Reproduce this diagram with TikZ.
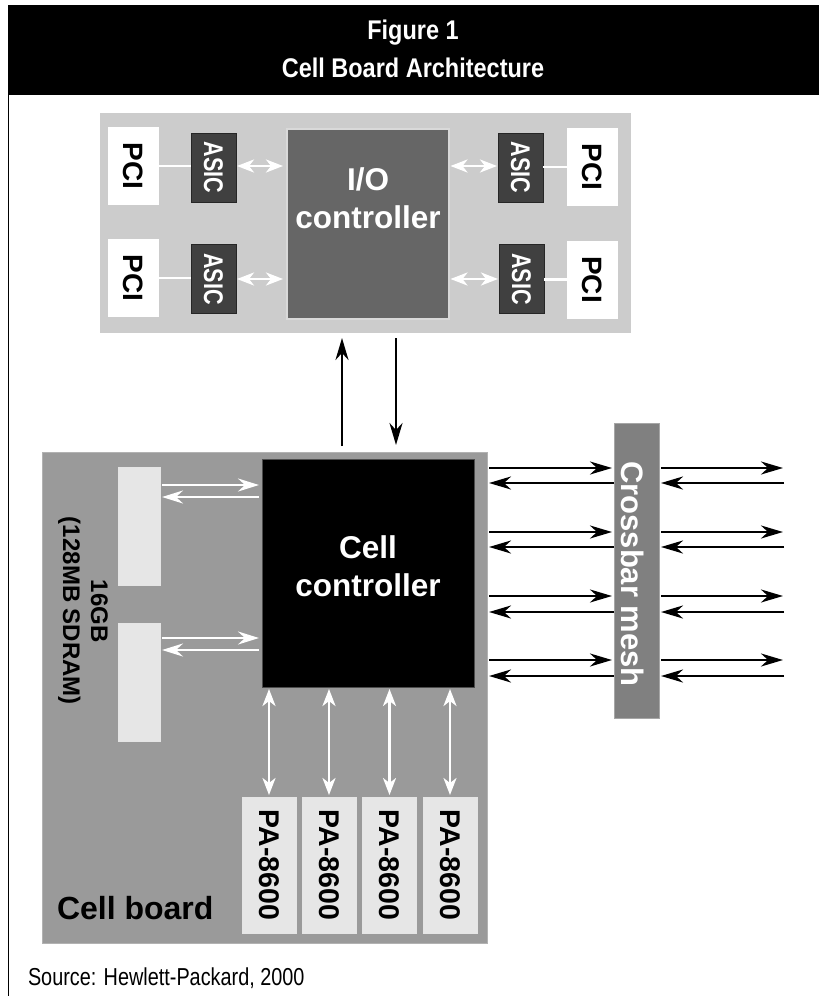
\documentclass[tikz,border=0pt]{standalone}
\usepackage{fontspec}
\setmainfont{Liberation Sans}
\newfontfamily\condfont[FakeStretch=0.87]{Liberation Sans}
\newfontfamily\srcfont[FakeStretch=0.81]{Liberation Sans}
\newfontfamily\asicfont[FakeStretch=0.8]{Liberation Sans}
\usetikzlibrary{arrows.meta}
\definecolor{ioboard}{HTML}{CCCCCC}
\definecolor{asicc}{HTML}{404040}
\definecolor{ioctrl}{HTML}{666666}
\definecolor{cellbd}{HTML}{9A9A9A}
\definecolor{membox}{HTML}{E6E6E6}
\definecolor{xbarc}{HTML}{808080}
\tikzset{
  every node/.style={inner sep=0pt, outer sep=0pt},
  titletext/.style={text=white, anchor=base, font={\condfont\bfseries\fontsize{27}{30}\selectfont}},
  pcibox/.style={fill=white, minimum width=51pt, minimum height=78pt, font={\bfseries\fontsize{28}{30}\selectfont}},
  asicbox/.style={fill=asicc, draw=black!85, line width=0.8pt, minimum width=45pt, minimum height=69pt, text=white, font={\asicfont\bfseries\fontsize{27}{28}\selectfont}},
  ctrltext/.style={align=center, font={\bfseries\fontsize{31.5}{38}\selectfont}},
  memrect/.style={fill=membox, draw=white!90!black, line width=0.8pt, minimum width=42pt, minimum height=118pt},
  pabox/.style={fill=membox, draw=white!90!black, line width=0.8pt, minimum width=54pt, minimum height=136pt, font={\bfseries\fontsize{28.5}{30}\selectfont}},
  blkarrow/.style={line width=2.6pt, -{Stealth[length=22pt,width=13pt,inset=7pt]}},
  whtarrow/.style={white, line width=2.6pt, -{Stealth[length=21pt,width=13pt,inset=7pt]}},
  whtdouble/.style={white, line width=2.6pt, {Stealth[length=17pt,width=13pt,inset=5pt]}-{Stealth[length=17pt,width=13pt,inset=5pt]}},
  whtline/.style={white, line width=2.2pt},
}
\begin{document}
\begin{tikzpicture}[x=1pt,y=-1pt]
\useasboundingbox (0,0) rectangle (819,996);
\fill[white] (0,0) rectangle (819,996);
% title bar
\fill[black] (7.5,5) rectangle (819,95);
\node[titletext] (t1) at (413,39) {Figure 1};
\node[titletext] (t2) at (413,77) {Cell Board Architecture};
\draw[line width=1.3pt] (8.2,95) -- (8.2,996);

% I/O board
\node[fill=ioboard, minimum width=531pt, minimum height=220pt] (ioboard) at (365.5,223) {};
\node[fill=ioctrl, draw=white!85!black, line width=1.2pt, minimum width=162pt, minimum height=190pt] (io) at (368,224) {};
\node[ctrltext, text=white] (iotext) at (368,198) {I/O\\controller};
\node[pcibox] (pci1) at (133.5,166) {\rotatebox{-90}{PCI}};
\node[pcibox] (pci2) at (133.5,278) {\rotatebox{-90}{PCI}};
\node[pcibox] (pci3) at (592.5,167) {\rotatebox{-90}{PCI}};
\node[pcibox] (pci4) at (592.5,279.5) {\rotatebox{-90}{PCI}};
\node[asicbox] (asic1) at (213.5,167.5) {\rotatebox{-90}{ASIC}};
\node[asicbox] (asic2) at (213.5,279) {\rotatebox{-90}{ASIC}};
\node[asicbox] (asic3) at (520.5,167.5) {\rotatebox{-90}{ASIC}};
\node[asicbox] (asic4) at (521.5,279) {\rotatebox{-90}{ASIC}};
\draw[whtline] (pci1.east) -- (asic1.west |- pci1.east);
\draw[whtline] (pci2.east) -- (asic2.west |- pci2.east);
\draw[whtline] (asic3.east |- pci3.west) -- (pci3.west);
\draw[whtline] (asic4.east |- pci4.west) -- (pci4.west);
\draw[whtdouble, shorten <=1pt, shorten >=4pt] (asic1.east |- 0,166) -- (io.west |- 0,166);
\draw[whtdouble, shorten <=1pt, shorten >=4pt] (asic2.east |- 0,279) -- (io.west |- 0,279);
\draw[whtdouble, shorten <=1.5pt, shorten >=1pt] (io.east |- 0,166) -- (asic3.west |- 0,166);
\draw[whtdouble, shorten <=1.5pt, shorten >=1pt] (io.east |- 0,279) -- (asic4.west |- 0,279);

% cell board
\node[fill=cellbd, draw=gray!60, line width=0.8pt, minimum width=445pt, minimum height=491pt] (board) at (264.5,697.5) {};
\node[fill=black, draw=black!70, line width=0.8pt, minimum width=212pt, minimum height=228pt] (cc) at (368,573) {};
\node[ctrltext, text=white] (cctext) at (368,566) {Cell\\controller};
\node[memrect] (mem1) at (139,526) {};
\node[memrect] (mem2) at (139,682) {};
\node[rotate=-90, align=center, font={\bfseries\fontsize{24}{28}\selectfont}] (memtext) at (83,611) {16GB\\(128MB SDRAM)};
\draw[whtarrow, shorten <=2pt, shorten >=3pt] (mem1.east |- 0,485) -- (cc.west |- 0,485);
\draw[whtarrow, shorten <=3pt, shorten >=2pt] (cc.west |- 0,497) -- (mem1.east |- 0,497);
\draw[whtarrow, shorten <=2pt, shorten >=3pt] (mem2.east |- 0,638) -- (cc.west |- 0,638);
\draw[whtarrow, shorten <=3pt, shorten >=2pt] (cc.west |- 0,650) -- (mem2.east |- 0,650);
\node[pabox] (pa1) at (269,865) {\rotatebox{-90}{PA-8600}};
\node[pabox] (pa2) at (329,865) {\rotatebox{-90}{PA-8600}};
\node[pabox] (pa3) at (389.5,865) {\rotatebox{-90}{PA-8600}};
\node[pabox] (pa4) at (450,865) {\rotatebox{-90}{PA-8600}};
\foreach \p in {pa1,pa2,pa3,pa4}{
  \draw[whtdouble, shorten <=2pt, shorten >=2pt] (cc.south -| \p.north) -- (\p.north);
}
\node[anchor=base west, font={\bfseries\fontsize{32}{34}\selectfont}] (cbtext) at (57,919) {Cell board};

% I/O <-> cell board
\draw[blkarrow, shorten <=6pt, shorten >=5pt] (board.north -| 342,0) -- (ioboard.south -| 342,0);
\draw[blkarrow, shorten <=5pt, shorten >=7pt] (ioboard.south -| 396,0) -- (board.north -| 396,0);

% crossbar
\node[fill=xbarc, draw=gray!70, line width=0.8pt, minimum width=45pt, minimum height=295pt] (xbar) at (636.5,570.5) {};
\node[text=white, font={\bfseries\fontsize{31}{33}\selectfont}] (xbartext) at (633,574) {\rotatebox{-90}{Crossbar mesh}};
\foreach \i/\a/\b in {1/468/483, 2/532/547, 3/596/612, 4/660/676}{
  \coordinate (ro\i) at (784,\a);
  \coordinate (ri\i) at (784,\b);
  \draw[blkarrow, shorten <=2pt, shorten >=2pt] (board.east |- 0,\a) -- (xbar.west |- 0,\a);
  \draw[blkarrow, shorten <=0pt, shorten >=2pt] (xbar.west |- 0,\b) -- (board.east |- 0,\b);
  \draw[blkarrow, shorten <=2pt, shorten >=1pt] (xbar.east |- 0,\a) -- (ro\i);
  \draw[blkarrow, shorten >=2pt] (ri\i) -- (xbar.east |- 0,\b);
}

% source
\node[anchor=base west, font={\srcfont\fontsize{24.5}{26}\selectfont}] (src) at (28,985) {Source: Hewlett-Packard, 2000};
\end{tikzpicture}
\end{document}
